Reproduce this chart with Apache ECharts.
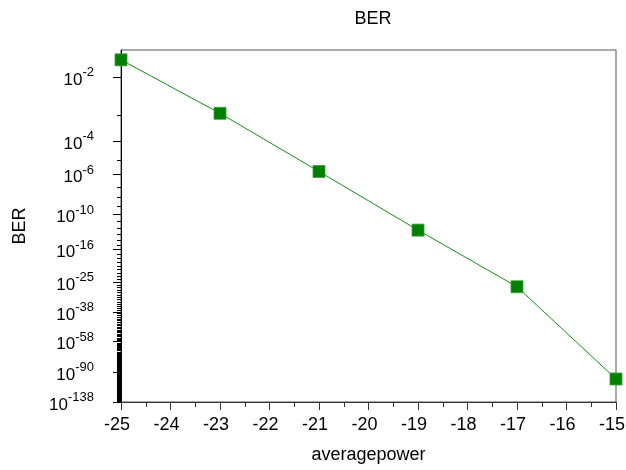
<!DOCTYPE html>
<html>
<head>
<meta charset="utf-8">
<script src="https://cdn.jsdelivr.net/npm/echarts@6/dist/echarts.min.js"></script>
<style>
  html, body { margin: 0; padding: 0; background: #fff; }
  #chart { width: 626px; height: 470px; }
</style>
</head>
<body>
<div id="chart"></div>
<script>
// Measured bit error rate against average received power (dBm)
const averagePower = [-25, -23, -21, -19, -17, -15];
const berValues = [2.0e-2, 1.2e-3, 1.7e-6, 5e-13, 2e-27, 1e-99];

// Labelled BER ticks, given as exponents of ten (10^-n)
const berTickExponents = [2, 4, 6, 10, 16, 25, 38, 58, 90, 138];
// Unlabelled ticks: every decade between 10^-3 and 10^-137
const berMinorExponents = [];
for (let n = 3; n <= 137; n++) {
  if (berTickExponents.indexOf(n) < 0) berMinorExponents.push(n);
}
// BER range shown on the vertical axis
const berAxisTop = 2.8e-2;
const berAxisBottom = 1e-138;

// x-axis ticks
const powerMin = -25;
const powerMax = -15;
const powerStep = 1;

// ---- BER scale: the axis is linear in log10(Q), Q being the Q-factor ----
// log10 of the Gaussian tail Q(z) = 0.5*erfc(z/sqrt(2)), via the Mills-ratio continued fraction
function log10Tail(z) {
  let t = z;
  for (let k = 600; k >= 1; k--) t = z + k / t;
  const lnTail = -z * z / 2 - 0.5 * Math.log(2 * Math.PI) - Math.log(t);
  return lnTail / Math.LN10;
}
// Q-factor from a BER value given as log10(BER)
function qFromLog10Ber(l) {
  let lo = 0.3, hi = 60;
  for (let i = 0; i < 80; i++) {
    const mid = (lo + hi) / 2;
    if (log10Tail(mid) > l) lo = mid; else hi = mid;
  }
  return (lo + hi) / 2;
}
function berToAxis(ber) { return Math.log10(qFromLog10Ber(Math.log10(ber))); }
function expToAxis(n) { return Math.log10(qFromLog10Ber(-n)); }

const majorPos = berTickExponents.map(expToAxis);
const minorPos = berMinorExponents.map(expToAxis);
const seriesData = averagePower.map((p, i) => [p, berToAxis(berValues[i])]);

const FONT = '"Liberation Sans", Arial, sans-serif';

function labelFor(v) {
  let best = 0, bd = Infinity;
  majorPos.forEach((m, i) => { const d = Math.abs(m - v); if (d < bd) { bd = d; best = i; } });
  return '{b|10}{s|-' + berTickExponents[best] + '}';
}

const yCommon = {
  type: 'value',
  inverse: true,
  min: berToAxis(berAxisTop),
  max: berToAxis(berAxisBottom),
  position: 'left',
  splitLine: { show: false }
};

const option = {
  animation: false,
  backgroundColor: '#fff',
  title: {
    text: 'BER',
    left: 368,
    top: 5,
    textAlign: 'center',
    textStyle: { fontFamily: FONT, fontSize: 18, fontWeight: 'normal', color: '#000' }
  },
  grid: {
    left: 121, right: 10, top: 50, bottom: 68,
    outerBoundsMode: 'none',
    containLabel: false,
    show: true, borderColor: '#555', borderWidth: 1, backgroundColor: '#fff'
  },
  xAxis: {
    type: 'value',
    min: powerMin, max: powerMax, interval: powerStep,
    name: 'averagepower',
    nameLocation: 'middle',
    nameGap: 44,
    nameTextStyle: { fontFamily: FONT, fontSize: 18, color: '#000' },
    axisLine: { lineStyle: { color: '#333', width: 1 } },
    axisTick: { length: 8, lineStyle: { color: '#333' } },
    minorTick: { show: true, splitNumber: 2, length: 5, lineStyle: { color: '#333' } },
    axisLabel: { fontFamily: FONT, fontSize: 18, color: '#000', margin: 14, padding: [0, 8, 0, 0] },
    splitLine: { show: false }
  },
  yAxis: [
    Object.assign({}, yCommon, {
      name: 'BER',
      nameLocation: 'middle',
      nameRotate: 90,
      nameGap: 92,
      nameTextStyle: { fontFamily: FONT, fontSize: 18, color: '#000' },
      axisLine: { show: true, lineStyle: { color: '#000', width: 1 } },
      axisTick: { show: true, length: 8, customValues: majorPos, lineStyle: { color: '#000' } },
      axisLabel: {
        show: true,
        customValues: majorPos,
        margin: 27,
        formatter: labelFor,
        rich: {
          b: { fontFamily: FONT, fontSize: 17, color: '#000', lineHeight: 22, padding: [6, 0, 0, 0] },
          s: { fontFamily: FONT, fontSize: 13, color: '#000', verticalAlign: 'top', lineHeight: 13 }
        }
      }
    }),
    Object.assign({}, yCommon, {
      axisLine: { show: false },
      axisTick: { show: true, length: 4, customValues: minorPos, lineStyle: { color: '#000' } },
      axisLabel: { show: false }
    })
  ],
  series: [{
    type: 'line',
    data: seriesData,
    yAxisIndex: 0,
    symbol: 'rect',
    symbolSize: 12,
    lineStyle: { color: '#1a8c1a', width: 1 },
    itemStyle: { color: '#008000', borderColor: '#3d9e3d', borderWidth: 0.8 },
    emphasis: { disabled: true },
    z: 5
  }]
};

const chart = echarts.init(document.getElementById('chart'), null, { renderer: 'canvas' });
chart.setOption(option);
</script>
</body>
</html>
